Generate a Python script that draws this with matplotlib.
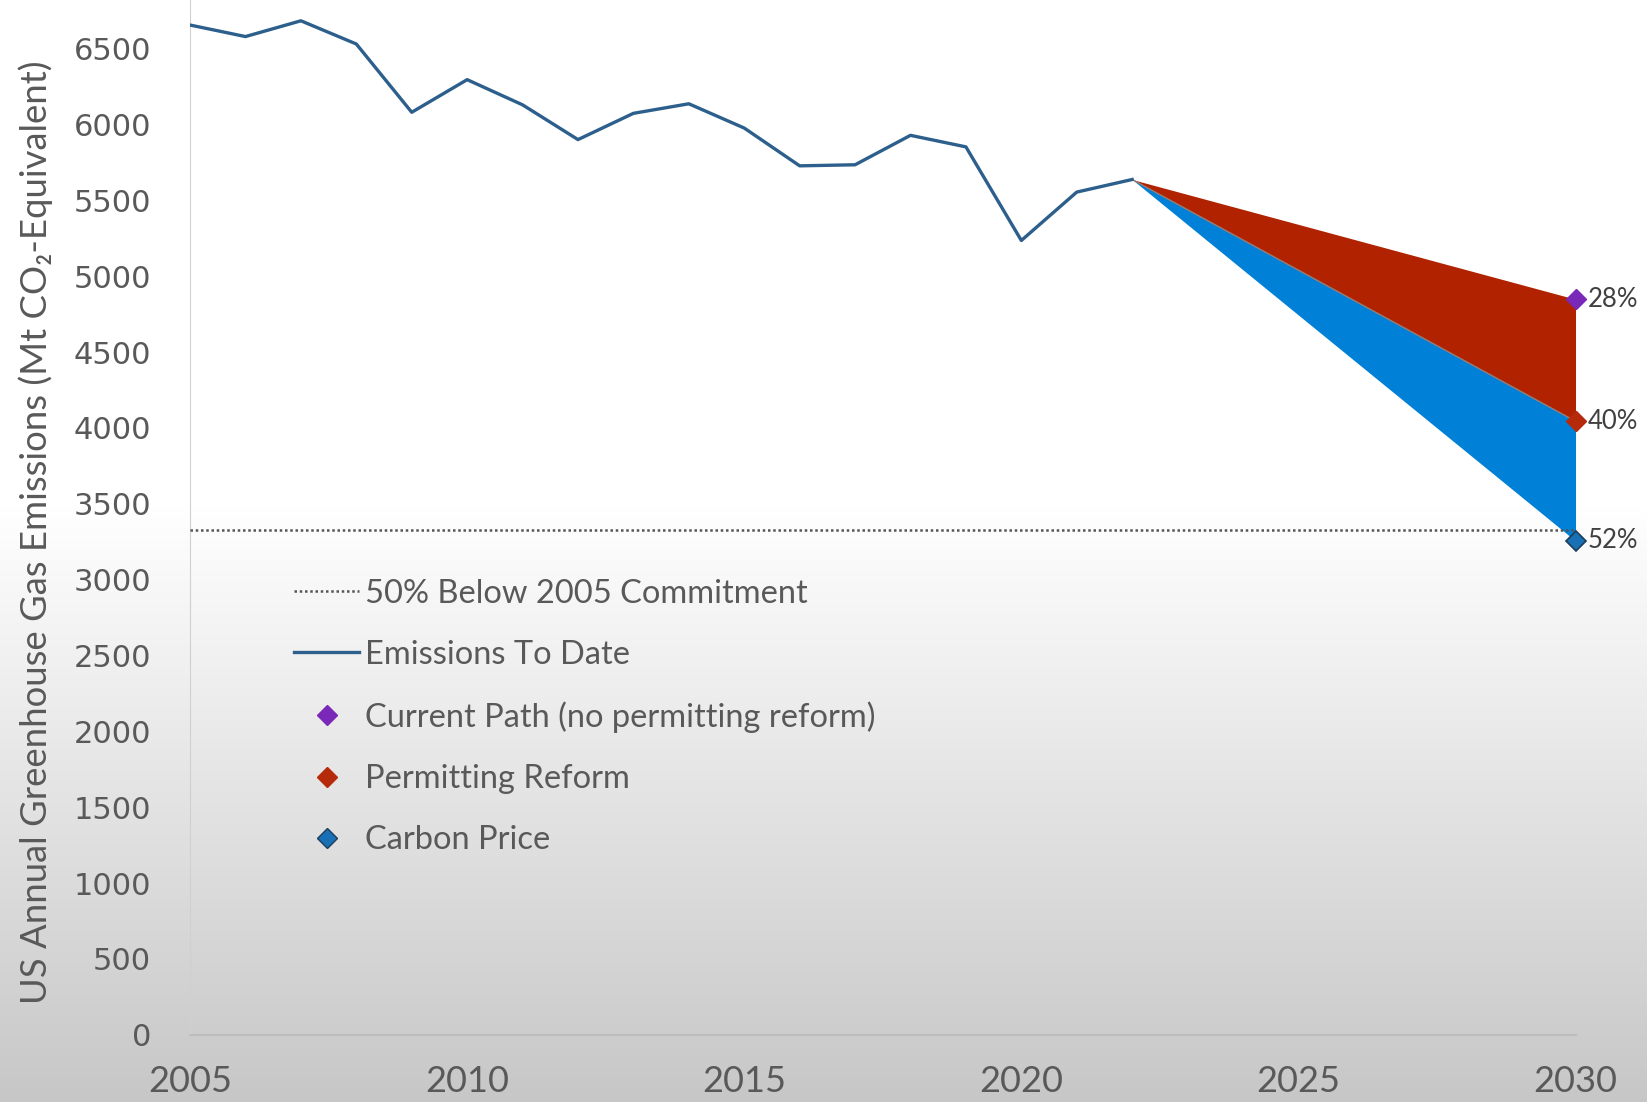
import numpy as np
import matplotlib
matplotlib.use("Agg")
import matplotlib.pyplot as plt
from matplotlib.lines import Line2D

# ---- data ----
years = [2005, 2006, 2007, 2008, 2009, 2010, 2011, 2012, 2013, 2014, 2015,
         2016, 2017, 2018, 2019, 2020, 2021, 2022]
emissions = [6655, 6579, 6683, 6530, 6080, 6295, 6129, 5900, 6073, 6136, 5976,
             5727, 5734, 5928, 5852, 5235, 5554, 5637]
proj_years = [2022, 2030]
current_path = [5637, 4848]
permitting = [5637, 4044]
carbon_price = [5637, 3255]
commitment = 3324
pct_labels = ["28%", "40%", "52%"]
yticks = list(range(0, 7000, 500))
xticks = [2005, 2010, 2015, 2020, 2025, 2030]

fig = plt.figure(figsize=(16.47, 11.02), dpi=100)

# background gradient
bg = fig.add_axes([0, 0, 1, 1], zorder=-10)
h = 400
yy = np.linspace(0, 1, h)  # 0 = top, 1 = bottom
start = 0.46
g = np.where(yy < start, 1.0, 1.0 - (yy - start) / (1 - start) * 0.22)
img = np.repeat(g[:, None], 10, axis=1)
bg.imshow(np.dstack([img, img, img]), aspect='auto', extent=[0, 1, 0, 1])
bg.axis('off')

ax = fig.add_axes([0.1154, 0.061, 0.8412, 0.939])
ax.set_facecolor('none')

ax.fill_between(proj_years, permitting, current_path, color='#B02200', lw=0, zorder=2)
ax.fill_between(proj_years, carbon_price, permitting, color='#0080D6', lw=0, zorder=2)
ax.plot(proj_years, permitting, color='#9a7a70', lw=1.0, zorder=3)

ax.plot([xticks[0], xticks[-1]], [commitment, commitment], ls=(0, (1, 1.1)),
        color='#555555', lw=1.8, zorder=3)
ax.plot(years, emissions, color='#2D5F8C', lw=2.4, zorder=4)

ax.plot(proj_years[-1], current_path[-1], marker='D', ms=10, color='#7A28B8', zorder=5, clip_on=False)
ax.plot(proj_years[-1], permitting[-1], marker='D', ms=10, color='#B52A0A', zorder=5, clip_on=False)
ax.plot(proj_years[-1], carbon_price[-1], marker='D', ms=10, color='#1A70B5',
        mec='#1d3d5c', mew=1.2, zorder=5, clip_on=False)

for v, lab in zip([current_path[-1], permitting[-1], carbon_price[-1]], pct_labels):
    ax.annotate(lab, (proj_years[-1], v), xytext=(9, 0), textcoords='offset points',
                va='center', ha='left', fontsize=18.5, color='#404040', family='Lato',
                annotation_clip=False)

ax.set_xlim(2005, 2030)
ax.set_ylim(0, 6820)
ax.set_yticks(yticks)
ax.set_xticks(xticks)
ax.tick_params(length=0)
ax.tick_params(axis='y', labelsize=22, labelcolor='#595959', pad=28)
ax.tick_params(axis='x', labelsize=26, labelcolor='#595959', pad=22)
for lab in ax.get_xticklabels():
    lab.set_family('Lato')
for s in ['top', 'right']:
    ax.spines[s].set_visible(False)
ax.spines['left'].set_color('#d0d0d0')
ax.spines['bottom'].set_color('#bdbdbd')
ax.spines['bottom'].set_linewidth(1.5)

ax.set_ylabel('US Annual Greenhouse Gas Emissions (Mt CO\u2082-Equivalent)',
              fontsize=26.3, color='#595959', family=['Lato', 'DejaVu Sans'])
ax.yaxis.set_label_coords(-0.099, 0.486)

handles = [
    Line2D([], [], ls=(0, (1, 1.1)), color='#555555', lw=1.8),
    Line2D([], [], color='#2D5F8C', lw=2.4),
    Line2D([], [], ls='none', marker='D', ms=10, color='#7A28B8'),
    Line2D([], [], ls='none', marker='D', ms=10, color='#B52A0A'),
    Line2D([], [], ls='none', marker='D', ms=10, color='#1A70B5', mec='#1d3d5c'),
]
labels = ['50% Below 2005 Commitment', 'Emissions To Date',
          'Current Path (no permitting reform)', 'Permitting Reform', 'Carbon Price']
leg = fig.legend(handles, labels, loc='upper left', bbox_to_anchor=(0.1786, 0.475),
                 frameon=False, prop={'family': 'Lato', 'size': 23.5},
                 handlelength=2.0, handletextpad=0.16, labelspacing=0.96,
                 borderpad=0, borderaxespad=0)
for t in leg.get_texts():
    t.set_color('#595959')

fig.savefig('out.png', dpi=100)
